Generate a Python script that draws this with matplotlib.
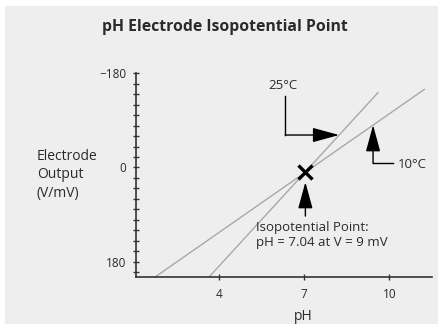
import matplotlib
matplotlib.use("Agg")
import matplotlib.pyplot as plt
from matplotlib.patches import Rectangle
import numpy as np

# --- data -------------------------------------------------------------
ph_ticks = [4, 7, 10]
mv_labels = [-180, 0, 180]
mv_minor = list(range(-180, 201, 20))

# electrode response lines (pH, mV) at two temperatures
ph_25 = [3.63, 9.62]
mv_25 = [210, -144]
ph_10 = [1.72, 11.26]
mv_10 = [210, -150]

# isopotential point
iso_ph = 7.04
iso_mv = 9

# --- style -------------------------------------------------------------
plt.rcParams['font.family'] = ['Open Sans', 'DejaVu Sans']
W, H = 439, 324
fig = plt.figure(figsize=(W / 100, H / 100), dpi=100, facecolor='white')
fig.patches.append(Rectangle((5 / W, 0), 1 - 5 / W + 0.01, 1 - 6 / H,
                             transform=fig.transFigure, facecolor='#eeeeee',
                             edgecolor='none', zorder=-10))


def fx(x):
    return x / W


def fy(y):
    return 1 - y / H


ax = fig.add_axes([fx(136), fy(277.3), (431.7 - 136) / W, (277.3 - 73.3) / H])
ax.set_facecolor('none')
ax.set_xlim(1.06, 11.5)
ax.set_ylim(210, -180)

axis_col = '#333333'
text_col = '#2a2a2a'
for s in ['top', 'right']:
    ax.spines[s].set_visible(False)
for s in ['left', 'bottom']:
    ax.spines[s].set_color(axis_col)
    ax.spines[s].set_linewidth(1.2)

ax.set_xticks(ph_ticks)
ax.set_xticklabels([str(v) for v in ph_ticks])
ax.set_yticks(mv_minor, minor=True)
ax.set_yticks(mv_labels)
ax.set_yticklabels(['\u2212180', '0', '180'])
ax.tick_params(axis='both', which='both', direction='inout', length=5,
               width=1.0, color=axis_col, labelcolor=text_col, labelsize=8.5)
ax.tick_params(axis='y', which='major', pad=4.5)
ax.tick_params(axis='x', which='major', pad=5)

# --- response lines ----------------------------------------------------
line_col = '#a8a8a8'
ax.plot(ph_25, mv_25, color=line_col, lw=1.0, solid_capstyle='butt', clip_on=False)
ax.plot(ph_10, mv_10, color=line_col, lw=1.0, solid_capstyle='butt', clip_on=False)

# isopotential marker
ax.plot(iso_ph, iso_mv, marker='x', ms=10, mew=2.4, color='black', zorder=5)

arrow_kw = dict(arrowstyle='-|>,head_length=1.65,head_width=0.45',
                mutation_scale=10, lw=1.0, color='black',
                shrinkA=0, shrinkB=0)


def ph_on(line_ph, line_mv, mv):
    return np.interp(mv, line_mv[::-1], line_ph[::-1])


def mv_on(line_ph, line_mv, ph):
    return np.interp(ph, line_ph, line_mv)


# 25 °C callout: elbow line then arrow right to the line
elbow_ph, elbow_top, elbow_mv = 6.33, -136, -62
ax.plot([elbow_ph, elbow_ph], [elbow_top, elbow_mv], color='black', lw=1.0)
ax.annotate('', xy=(ph_on(ph_25, mv_25, elbow_mv), elbow_mv),
            xytext=(elbow_ph, elbow_mv), arrowprops=arrow_kw)
ax.text(6.25, -156, '25\u00b0C', ha='center', va='center',
        fontsize=9.5, color=text_col)

# 10 °C callout: arrow up to the line from an elbow
c10_ph, c10_mv, c10_end = 9.43, -8, 10.13
ax.annotate('', xy=(c10_ph, mv_on(ph_10, mv_10, c10_ph)),
            xytext=(c10_ph, c10_mv), arrowprops=arrow_kw)
ax.plot([c10_ph, c10_end], [c10_mv, c10_mv], color='black', lw=1.0)
ax.text(10.3, -6, '10\u00b0C', ha='left', va='center',
        fontsize=9.5, color=text_col)

# isopotential callout
ax.annotate('', xy=(iso_ph, iso_mv + 19), xytext=(iso_ph, 93),
            arrowprops=arrow_kw)
ax.text(5.30, 130, 'Isopotential Point:\npH = 7.04 at V = 9 mV',
        ha='left', va='center', fontsize=9.5, color=text_col, linespacing=1.2)

# --- labels ------------------------------------------------------------
ax.set_xlabel('pH', fontsize=10, color=text_col)
ax.xaxis.set_label_coords((303 - 136) / (431.7 - 136), -(316 - 277.3) / (277.3 - 73.3))
ax.xaxis.label.set_va('center')

fig.text(fx(37), fy(175), 'Electrode\nOutput\n(V/mV)', ha='left', va='center',
         fontsize=10, color=text_col, linespacing=1.3)
fig.text(fx(225), fy(27), 'pH Electrode Isopotential Point', ha='center',
         va='center', fontsize=11.3, fontweight='bold', color=text_col)

fig.savefig('out.png', dpi=100, facecolor=fig.get_facecolor())
